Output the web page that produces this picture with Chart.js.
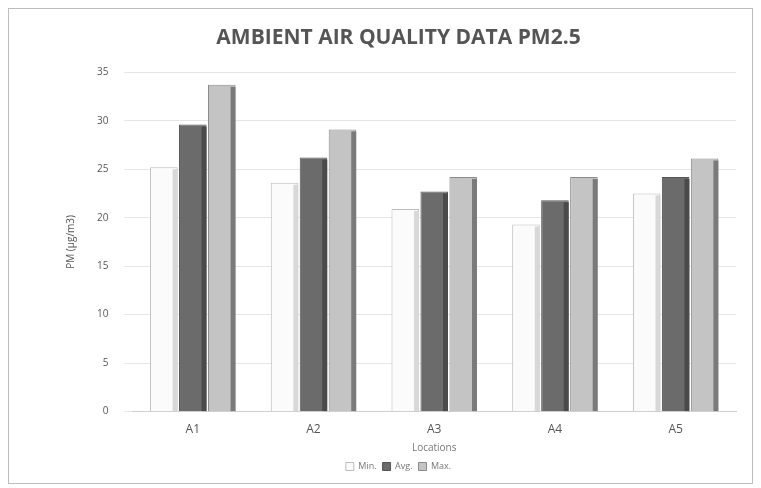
<!DOCTYPE html>
<html>
<head>
<meta charset="utf-8">
<script src="https://cdn.jsdelivr.net/npm/chart.js@4"></script>
<style>
  html, body { margin: 0; padding: 0; background: #fff; }
  #wrap { position: absolute; left: 8px; top: 8px; width: 745px; height: 476px; border: 1px solid #bdbdbd; box-sizing: border-box; }
</style>
</head>
<body>
<div id="wrap"><canvas id="chart"></canvas></div>
<script>
// Dados do gráfico
const locations = ["A1", "A2", "A3", "A4", "A5"];
const minValues = [25.2, 23.6, 20.9, 19.3, 22.5];
const avgValues = [29.6, 26.2, 22.7, 21.8, 24.2];
const maxValues = [33.7, 29.1, 24.2, 24.2, 26.1];
const yTicks = [0, 5, 10, 15, 20, 25, 30, 35];

// lado escuro das barras (efeito 3D simples)
const sideShade = {
    id: 'sideShade',
    afterDatasetsDraw(chart) {
        const ctx = chart.ctx;
        const shades = ['#d8d8d8', '#4a4a4a', '#7a7a7a'];
        chart.data.datasets.forEach((ds, i) => {
            chart.getDatasetMeta(i).data.forEach(bar => {
                const w = bar.width * 0.18;
                ctx.save();
                ctx.fillStyle = shades[i];
                ctx.fillRect(bar.x + bar.width / 2 - w, bar.y + 2, w, bar.base - bar.y - 2);
                ctx.restore();
            });
        });
    }
};

new Chart(document.getElementById('chart'), {
    type: 'bar',
    data: {
        labels: locations,
        datasets: [
            { label: 'Min.', data: minValues, backgroundColor: '#fbfbfb', borderColor: '#bcbcbc', borderWidth: 1 },
            { label: 'Avg.', data: avgValues, backgroundColor: '#6b6b6b', borderColor: '#555555', borderWidth: 1 },
            { label: 'Max.', data: maxValues, backgroundColor: '#c4c4c4', borderColor: '#8a8a8a', borderWidth: 1 }
        ]
    },
    options: {
        responsive: true,
        maintainAspectRatio: false,
        animation: false,
        layout: { padding: { left: 52, right: 16, top: 6, bottom: 2 } },
        categoryPercentage: 0.72,
        barPercentage: 0.95,
        plugins: {
            title: {
                display: true,
                text: 'AMBIENT AIR QUALITY DATA PM2.5',
                color: '#555',
                font: { family: 'Open Sans', size: 21, weight: 'bold' },
                padding: { top: 10, bottom: 22 }
            },
            legend: {
                position: 'bottom',
                labels: { color: '#777', font: { family: 'Open Sans', size: 9 }, boxWidth: 8, boxHeight: 8, padding: 6 }
            },
            tooltip: { enabled: false }
        },
        scales: {
            x: {
                grid: { display: false },
                border: { color: '#d0d0d0' },
                ticks: { color: '#555', font: { family: 'Open Sans', size: 12 } },
                title: { display: true, text: 'Locations', color: '#777', font: { family: 'Open Sans', size: 10 }, padding: 2 }
            },
            y: {
                min: 0, max: 35,
                afterBuildTicks: axis => { axis.ticks = yTicks.map(v => ({ value: v })); },
                grid: { color: '#e6e6e6' },
                border: { display: false },
                ticks: { color: '#555', font: { family: 'Open Sans', size: 10 }, padding: 16 },
                title: { display: true, text: 'PM (µg/m3)', color: '#555', font: { family: 'Open Sans', size: 10 } }
            }
        }
    },
    plugins: [sideShade]
});
</script>
</body>
</html>
